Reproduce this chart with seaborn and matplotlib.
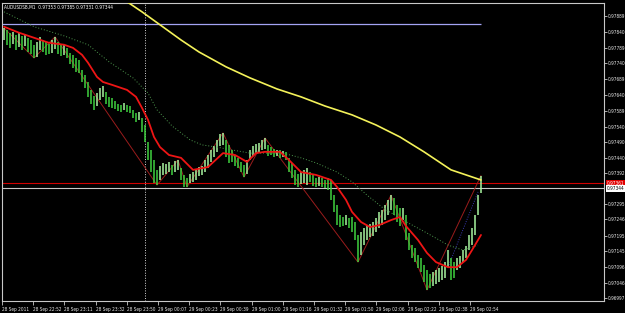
import numpy as np
import pandas as pd
import matplotlib
matplotlib.use("Agg")
import matplotlib.pyplot as plt
import seaborn as sns
from matplotlib import font_manager
from matplotlib.transforms import blended_transform_factory

# ---------------- data (prices in points, 1 point = 0.00001) ----------------
symbol = "AUDUSDSB,M1"
last_ohlc = ["0.97353", "0.97385", "0.97331", "0.97344"]

bar_high_pts = [97852, 97846, 97837, 97840, 97830, 97837, 97827, 97833, 97821, 97814,
                97799, 97808, 97824, 97814, 97808, 97802, 97814, 97824, 97808, 97802,
                97799, 97789, 97773, 97767, 97757, 97751, 97719, 97704, 97681, 97656,
                97637, 97646, 97662, 97669, 97650, 97634, 97631, 97621, 97612, 97608,
                97615, 97608, 97605, 97593, 97583, 97586, 97567, 97545, 97491, 97466,
                97434, 97403, 97415, 97425, 97422, 97428, 97418, 97431, 97434, 97409,
                97387, 97377, 97390, 97396, 97403, 97412, 97415, 97434, 97450, 97466,
                97479, 97498, 97517, 97520, 97498, 97482, 97466, 97450, 97441, 97428,
                97418, 97434, 97466, 97479, 97485, 97488, 97498, 97504, 97482, 97475,
                97469, 97466, 97466, 97463, 97460, 97441, 97425, 97403, 97390, 97396,
                97403, 97409, 97396, 97387, 97377, 97380, 97377, 97371, 97377, 97371,
                97323, 97292, 97260, 97254, 97260, 97251, 97254, 97238, 97197, 97206,
                97219, 97228, 97232, 97238, 97251, 97270, 97276, 97292, 97308, 97323,
                97314, 97292, 97282, 97282, 97260, 97203, 97165, 97156, 97133, 97124,
                97102, 97086, 97073, 97080, 97086, 97092, 97099, 97111, 97149, 97124,
                97111, 97124, 97130, 97149, 97162, 97197, 97219, 97260, 97323, 97385]

bar_low_pts = [97814, 97799, 97789, 97802, 97783, 97792, 97783, 97795, 97776, 97770,
               97757, 97760, 97783, 97776, 97767, 97770, 97773, 97786, 97770, 97764,
               97767, 97757, 97738, 97726, 97713, 97710, 97681, 97662, 97634, 97612,
               97593, 97605, 97624, 97634, 97612, 97602, 97599, 97596, 97589, 97586,
               97593, 97586, 97583, 97567, 97555, 97561, 97523, 97491, 97434, 97396,
               97361, 97355, 97371, 97387, 97390, 97396, 97387, 97396, 97403, 97371,
               97349, 97349, 97361, 97365, 97371, 97384, 97387, 97396, 97409, 97428,
               97444, 97460, 97479, 97482, 97444, 97425, 97428, 97415, 97409, 97396,
               97380, 97390, 97434, 97447, 97456, 97460, 97466, 97469, 97447, 97450,
               97444, 97447, 97441, 97444, 97434, 97396, 97377, 97355, 97349, 97358,
               97361, 97355, 97365, 97352, 97349, 97352, 97349, 97346, 97339, 97308,
               97270, 97228, 97222, 97225, 97228, 97219, 97206, 97181, 97111, 97133,
               97165, 97181, 97190, 97194, 97206, 97219, 97228, 97244, 97260, 97276,
               97260, 97238, 97225, 97244, 97181, 97149, 97124, 97111, 97092, 97080,
               97048, 97023, 97029, 97035, 97042, 97048, 97054, 97061, 97095, 97054,
               97061, 97086, 97092, 97111, 97124, 97149, 97165, 97197, 97260, 97331]

fast_ma_bar = [0, 5, 10, 15, 20, 23, 26, 28, 31, 33, 36, 41, 44, 46, 48, 50, 52, 55, 59, 63,
               68, 73, 77, 81, 84, 87, 92, 95, 99, 104, 109, 111, 114, 116, 119, 122, 125, 129,
               132, 134, 138, 141, 144, 148, 151, 154, 156, 159]
fast_ma_pts = [97856, 97837, 97821, 97805, 97799, 97789, 97767, 97742, 97697, 97681,
               97672, 97656, 97634, 97599, 97561, 97507, 97475, 97450, 97441, 97403,
               97412, 97456, 97450, 97428, 97456, 97460, 97460, 97434, 97396, 97387,
               97371, 97349, 97308, 97270, 97238, 97222, 97228, 97244, 97254, 97225,
               97181, 97140, 97111, 97095, 97095, 97118, 97149, 97197]

slow_ma_bar = [0, 10, 20, 28, 35, 43, 48, 51, 56, 62, 66, 71, 76, 82, 93, 99, 104, 111, 116,
               121, 126, 133, 141, 148, 153, 158]
slow_ma_pts = [97903, 97856, 97827, 97799, 97745, 97694, 97646, 97593, 97542, 97498,
               97482, 97475, 97466, 97456, 97456, 97441, 97425, 97396, 97365, 97323,
               97285, 97244, 97203, 97165, 97149, 97165]

long_ma_bar = [37, 41, 46, 52, 59, 65, 74, 82, 91, 99, 107, 116, 124, 132, 140, 149, 154, 159]
long_ma_pts = [97963, 97935, 97903, 97862, 97814, 97776, 97729, 97694, 97659, 97634,
               97605, 97577, 97545, 97507, 97460, 97403, 97387, 97371]

zigzag_bar = [0, 10, 17, 51, 58, 61, 73, 80, 87, 118, 129, 141, 159]
zigzag_pts = [97852, 97757, 97824, 97355, 97434, 97349, 97520, 97380, 97504, 97111,
              97323, 97023, 97385]

trend_bar = [148, 158]
trend_pts = [97095, 97333]

level_line_pts = 97865
ask_pts = 97361
bid_pts = 97344
vline_bar = 47

y_tick_labels = ["0.96997", "0.97046", "0.97096", "0.97145", "0.97195", "0.97246",
                 "0.97295", "0.97392", "0.97440", "0.97490", "0.97540", "0.97589",
                 "0.97640", "0.97689", "0.97740", "0.97789", "0.97840", "0.97889"]
x_tick_labels = ["28 Sep 2011", "28 Sep 22:52", "28 Sep 23:11", "28 Sep 23:32",
                 "28 Sep 23:50", "29 Sep 00:07", "29 Sep 00:23", "29 Sep 00:39",
                 "29 Sep 01:00", "29 Sep 01:16", "29 Sep 01:32", "29 Sep 01:50",
                 "29 Sep 02:06", "29 Sep 02:22", "29 Sep 02:38", "29 Sep 02:54"]

# ---------------- build tables ----------------
P = 1e5
bars = pd.DataFrame({"bar": np.arange(len(bar_high_pts)),
                     "high": np.array(bar_high_pts) / P,
                     "low": np.array(bar_low_pts) / P})
mid = (bars["high"] + bars["low"]) / 2
bars["up"] = mid.diff().fillna(0) >= 0
fast = pd.DataFrame({"bar": fast_ma_bar, "price": np.array(fast_ma_pts) / P})
slow = pd.DataFrame({"bar": slow_ma_bar, "price": np.array(slow_ma_pts) / P})
longma = pd.DataFrame({"bar": long_ma_bar, "price": np.array(long_ma_pts) / P})
zz = pd.DataFrame({"bar": zigzag_bar, "price": np.array(zigzag_pts) / P})
tr = pd.DataFrame({"bar": trend_bar, "price": np.array(trend_pts) / P})

# ---------------- style ----------------
sns.set_theme(style="dark", rc={"axes.facecolor": "black", "figure.facecolor": "black"})

# pick a narrow font if available (MT4 uses a narrow small font)
fonts = font_manager.fontManager.ttflist
names = {f.name for f in fonts}
stretch = "normal"
if "Liberation Sans Narrow" in names:
    fam, fs = "Liberation Sans Narrow", 4.1
elif any(f.name == "DejaVu Sans" and f.stretch == "condensed" for f in fonts):
    fam, fs, stretch = "DejaVu Sans", 3.4, "condensed"
else:
    fam, fs = "DejaVu Sans", 3.1
plt.rcParams["font.family"] = [fam, "DejaVu Sans"]
plt.rcParams["font.stretch"] = stretch

fig = plt.figure(figsize=(6.25, 3.13), dpi=100, facecolor="black")
ax = fig.add_axes([2 / 625, 12 / 313, 602 / 625, 298 / 313])
ax.set_facecolor("black")

ax.set_xlim(-0.67, 200)
ax.set_ylim(0.96988, 0.97931)

# horizontal levels
ax.axhline(ask_pts / P, color="#d00000", lw=0.8, zorder=1)
ax.axhline(bid_pts / P, color="#c8c8c8", lw=0.8, zorder=1)
ax.hlines(level_line_pts / P, -0.67, len(bar_high_pts) - 1, color="#a4a4f4", lw=0.9, zorder=1)
ax.axvline(vline_bar, color="#d8d8d8", lw=0.7, linestyle=(0, (1, 1.6)), zorder=1)

# price bars
cols = np.where(bars["up"], "#a8f5a0", "#3fd23f")
ax.vlines(bars["bar"], bars["low"], bars["high"], colors=cols, linewidth=1.1, zorder=3)

# indicators
sns.lineplot(data=zz, x="bar", y="price", ax=ax, color="#9a1c1c", linewidth=0.7,
             estimator=None, sort=False, zorder=2)
sns.lineplot(data=tr, x="bar", y="price", ax=ax, color="#3a3ab0", linewidth=0.7,
             linestyle=(0, (1, 1.5)), estimator=None, sort=False, zorder=2)
sns.lineplot(data=slow, x="bar", y="price", ax=ax, color="#4f9a4f", linewidth=0.7,
             linestyle=(0, (1, 2)), estimator=None, sort=False, zorder=4)
sns.lineplot(data=fast, x="bar", y="price", ax=ax, color="#ee1515", linewidth=1.3,
             estimator=None, sort=False, zorder=5)
sns.lineplot(data=longma, x="bar", y="price", ax=ax, color="#f4f25a", linewidth=1.2,
             estimator=None, sort=False, zorder=5)

# axes cosmetics
for s in ax.spines.values():
    s.set_color("#c8c8c8")
    s.set_linewidth(0.8)
    s.set_visible(True)
ax.grid(False)
ax.set_xlabel("")
ax.set_ylabel("")

ax.yaxis.tick_right()
ax.set_yticks([float(t) for t in y_tick_labels])
ax.set_yticklabels(y_tick_labels)
ax.tick_params(axis="y", direction="out", length=2, width=0.6, color="#c8c8c8",
               labelcolor="#e8e8e8", labelsize=fs, pad=0.8, right=True, left=False)

step = (155.3 + 0.67) / (len(x_tick_labels) - 1)
ax.set_xticks([-0.67 + k * step for k in range(len(x_tick_labels))])
ax.set_xticklabels(x_tick_labels)
ax.tick_params(axis="x", direction="out", length=3, width=0.6, color="#c8c8c8",
               labelcolor="#e8e8e8", labelsize=fs, pad=1, bottom=True)
for lbl in ax.get_xticklabels():
    lbl.set_horizontalalignment("left")

# bid / ask boxes on the price scale
trans = blended_transform_factory(ax.transAxes, ax.transData)
ax.text(1.004, ask_pts / P, "%.5f" % (ask_pts / P), transform=trans, ha="left", va="center",
        fontsize=fs, color="white", clip_on=False, zorder=10,
        bbox=dict(boxstyle="square,pad=0.15", fc="#e00000", ec="none"))
ax.text(1.004, bid_pts / P, last_ohlc[3], transform=trans, ha="left", va="center",
        fontsize=fs, color="black", clip_on=False, zorder=11,
        bbox=dict(boxstyle="square,pad=0.15", fc="white", ec="none"))

# title
fig.text(4 / 625, 1 - 7 / 313, symbol + "  " + " ".join(last_ohlc), color="white",
         fontsize=fs, ha="left", va="center")

fig.savefig("out.png", dpi=100, facecolor="black")
